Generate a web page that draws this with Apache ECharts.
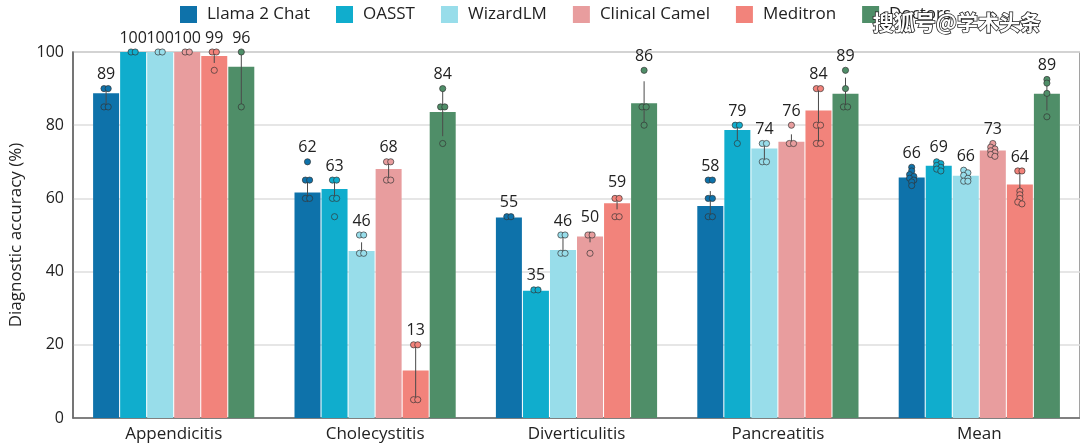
<!DOCTYPE html>
<html><head><meta charset="utf-8">
<script src="https://cdn.jsdelivr.net/npm/echarts@6/dist/echarts.min.js"></script>
<style>html,body{margin:0;padding:0;background:#fff}#c{width:1080px;height:447px}</style>
</head><body><div id="c"></div>
<script>
const categories = ['Appendicitis', 'Cholecystitis', 'Diverticulitis', 'Pancreatitis', 'Mean'];
const models = ['Llama 2 Chat', 'OASST', 'WizardLM', 'Clinical Camel', 'Meditron', 'Doctors'];
const colors = ['#0E72AA', '#10ADCD', '#98DDEA', '#E89D9E', '#F2837B', '#4F8E68'];
const yTicks = [0, 20, 40, 60, 80, 100];

// bar heights (mean diagnostic accuracy, %)
const llama    = [88.7, 61.6, 54.8, 57.9, 65.7];
const oasst    = [100, 62.6, 34.8, 78.7, 68.9];
const wizard   = [100, 45.6, 45.9, 73.6, 66.2];
const camel    = [100, 68.0, 49.6, 75.5, 73.1];
const meditron = [98.9, 13.0, 58.7, 84.0, 63.8];
const doctors  = [96.0, 83.6, 86.0, 88.6, 88.6];

// error bars [low, high]
const llamaErr    = [[85.5, 90], [59, 65], null, [55, 62], [64, 67.5]];
const oasstErr    = [null, [60, 65], null, [76, 80], [68, 70]];
const wizardErr   = [null, [44.5, 48], [45, 50], [70, 75], [65.5, 67]];
const camelErr    = [null, [65, 70], [48, 51], [75, 77.5], [72, 74.5]];
const meditronErr = [[97, 100], [5, 20], [57, 60.5], [75, 90], [61, 67.5]];
const doctorsErr  = [[85, 100], [77, 90], [80, 92], [85, 93], [84, 92]];

// individual runs / raters
const llamaPts    = [[90, 90, 85, 85], [70, 65, 65, 60, 60], [55, 55], [65, 65, 60, 60, 55, 55], [68.5, 67.5, 66.5, 66, 65.5, 65, 64.5, 63.5]];
const oasstPts    = [[100, 100], [65, 65, 60, 60, 55], [35, 35], [80, 80, 75], [70, 69.5, 69, 68.5, 68, 67.5]];
const wizardPts   = [[100, 100], [50, 50, 45, 45], [50, 50, 45, 45], [75, 75, 70, 70], [67.7, 67, 66.3, 65.5, 64.7, 64.7]];
const camelPts    = [[100, 100], [70, 70, 65, 65], [50, 50, 45], [80, 75, 75], [75, 74, 73.5, 73, 72.5, 72, 71.5]];
const meditronPts = [[100, 100, 95], [20, 20, 5, 5], [60, 60, 55, 55], [90, 90, 80, 80, 75, 75], [67.5, 67.5, 62, 61, 60, 59, 58.5]];
const doctorsPts  = [[100, 85], [90, 85, 85, 75], [95, 85, 85, 80], [95, 90, 85, 85], [92.5, 91.5, 88.7, 82.3]];

const barSets = [llama, oasst, wizard, camel, meditron, doctors];
const errSets = [llamaErr, oasstErr, wizardErr, camelErr, meditronErr, doctorsErr];
const ptSets  = [llamaPts, oasstPts, wizardPts, camelPts, meditronPts, doctorsPts];

const FONT = '"Open Sans", "Noto Sans", sans-serif';
const BAR_W = 26, BAR_GAP_PCT = 4;
const STEP = BAR_W * (1 + BAR_GAP_PCT / 100);
const R = 3.1, SP = 4.2;

function swarm(pixYs, cx) {
  const sorted = pixYs.slice().sort((a, b) => a - b);
  const groups = [];
  sorted.forEach(y => {
    const g = groups[groups.length - 1];
    if (g && Math.abs(y - g[0]) < 3 && g.length < 3) g.push(y); else groups.push([y]);
  });
  const out = [];
  groups.forEach(g => g.forEach((y, i) => out.push([cx + (i - (g.length - 1) / 2) * SP, y])));
  return out;
}

const chart = echarts.init(document.getElementById('c'), null, {renderer: 'canvas'});
const series = [];
models.forEach((m, s) => {
  series.push({
    name: m, type: 'bar', data: barSets[s], barWidth: BAR_W, barGap: BAR_GAP_PCT + '%',
    itemStyle: {color: colors[s]}, z: 2
  });
});
models.forEach((m, s) => {
  series.push({
    name: m + ' detail', type: 'custom', z: 5,
    data: categories.map((c, i) => [i, barSets[s][i]]),
    encode: {x: 0, y: 1},
    renderItem: function (params, api) {
      const ci = params.dataIndex;
      const cx = api.coord([ci, 0])[0] + (s - 2.5) * STEP;
      const children = [];
      const err = errSets[s][ci];
      const pts = ptSets[s][ci];
      let top = barSets[s][ci];
      if (err) {
        const y1 = api.coord([ci, err[0]])[1], y2 = api.coord([ci, err[1]])[1];
        children.push({type: 'line', shape: {x1: cx, y1: y1, x2: cx, y2: y2},
          style: {stroke: '#4a4a4a', lineWidth: 1}});
        top = Math.max(top, err[1]);
      }
      const pys = pts.map(v => api.coord([ci, v])[1]);
      swarm(pys, cx).forEach(p => {
        children.push({type: 'circle', shape: {cx: p[0], cy: p[1], r: R},
          style: {fill: colors[s], stroke: 'rgba(50,50,50,0.85)', lineWidth: 0.8}});
      });
      pts.forEach(v => { top = Math.max(top, v); });
      const ty = api.coord([ci, top])[1] - 6;
      children.push({type: 'text', style: {text: String(Math.round(barSets[s][ci])), x: cx, y: ty,
        align: 'center', verticalAlign: 'bottom', fill: '#222', font: '16px ' + FONT}});
      return {type: 'group', children: children};
    }
  });
});

chart.setOption({
  animation: false,
  backgroundColor: '#fff',
  textStyle: {fontFamily: FONT},
  legend: {
    data: models, top: 1, left: 175, itemWidth: 17, itemHeight: 17, itemGap: 26, icon: 'rect',
    textStyle: {fontSize: 17, color: '#222', fontFamily: FONT, padding: [0, 0, 0, 5]}
  },
  grid: {left: 72, top: 52, width: 1010, bottom: 29, show: true, borderColor: '#666', borderWidth: 1.2, containLabel: false},
  xAxis: {
    type: 'category', data: categories,
    axisLine: {lineStyle: {color: '#666', width: 1.5}}, axisTick: {show: false},
    axisLabel: {fontSize: 17, color: '#222', margin: 8, fontFamily: FONT}
  },
  yAxis: {
    type: 'value', min: yTicks[0], max: yTicks[yTicks.length - 1], interval: 20,
    name: 'Diagnostic accuracy (%)', nameLocation: 'middle', nameGap: 48,
    nameTextStyle: {fontSize: 17, color: '#222', fontFamily: FONT},
    axisLine: {show: true, lineStyle: {color: '#666', width: 1.5}}, axisTick: {show: false},
    axisLabel: {fontSize: 16, color: '#222', margin: 9, fontFamily: FONT},
    splitLine: {lineStyle: {color: '#dedede', width: 1.5}}
  },
  graphic: [{
    type: 'text', left: 872, top: 11, z: 100,
    style: {text: '搜狐号@学术头条', font: 'bold 21px "Noto Sans CJK SC"', fill: '#fff', stroke: '#222', lineWidth: 1.6}
  }],
  series: series
});
</script></body></html>
